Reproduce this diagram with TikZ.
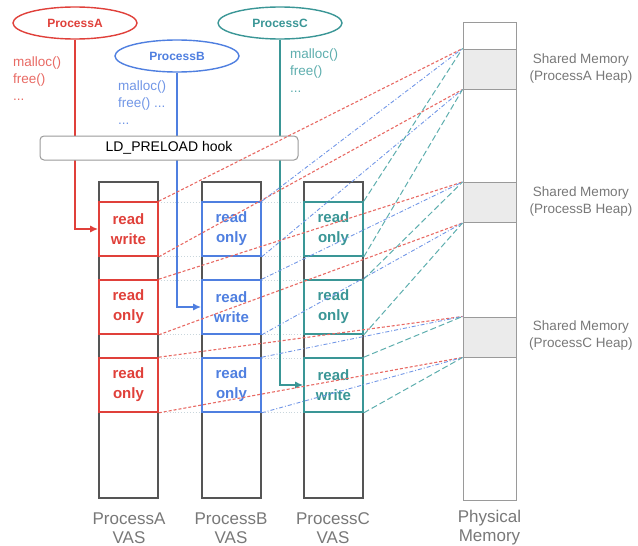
\documentclass[tikz,border=0pt]{standalone}
\usepackage{fontspec}
\setmainfont{Liberation Sans}
\usetikzlibrary{shapes.geometric,arrows.meta}

\definecolor{cA}{HTML}{E0403A}
\definecolor{cB}{HTML}{4F7FE0}
\definecolor{cC}{HTML}{3A9696}
\definecolor{cAl}{HTML}{E86A64}
\definecolor{cBl}{HTML}{7196E6}
\definecolor{cCl}{HTML}{5EAEAE}
\definecolor{colline}{HTML}{555555}
\definecolor{memline}{HTML}{9A9A9A}
\definecolor{memfill}{HTML}{EBEBEB}
\definecolor{labgray}{HTML}{787878}
\definecolor{gridline}{HTML}{C9D6DC}

\tikzset{
  proc/.style={ellipse, draw=#1, line width=1.4pt, fill=white,
    minimum width=124pt, minimum height=32pt, inner sep=0pt,
    text=#1, font=\fontsize{12}{14}\selectfont\bfseries},
  codetxt/.style={anchor=north west, inner sep=0pt, align=left, text=#1,
    font=\fontsize{13.5}{17}\selectfont},
  vascol/.style={rectangle, draw=colline, line width=1.3pt,
    minimum width=59pt, minimum height=316pt, inner sep=0pt},
  seg/.style={rectangle, draw=#1, line width=1.6pt, fill=white,
    minimum width=59pt, minimum height=54pt, inner sep=0pt, align=center,
    text=#1, font=\fontsize{15}{20}\selectfont\bfseries},
  hookbox/.style={rectangle, rounded corners=4pt, draw=memline, line width=1pt,
    fill=white, minimum width=258pt, minimum height=24pt, inner sep=0pt,
    font=\fontsize{14}{16}\selectfont},
  memcol/.style={rectangle, draw=memline, line width=1pt,
    minimum width=53pt, minimum height=478pt, inner sep=0pt},
  shared/.style={rectangle, draw=memline, line width=1pt, fill=memfill,
    minimum width=53pt, minimum height=40pt, inner sep=0pt},
  sharedtxt/.style={align=center, text=labgray, inner sep=0pt,
    font=\fontsize{13.5}{17}\selectfont},
  collabel/.style={align=center, text=labgray, inner sep=0pt,
    font=\fontsize{17}{19}\selectfont},
  callarrow/.style={draw=#1, line width=1.5pt,
    -{Latex[length=8pt,width=7pt]}},
  grid/.style={draw=gridline, line width=0.9pt, dotted},
  mapA/.style={draw=cAl, line width=1.1pt, dash pattern=on 3pt off 2pt},
  mapB/.style={draw=cBl, line width=0.9pt, dash pattern=on 4pt off 2pt on 1pt off 2pt},
  mapC/.style={draw=cCl, line width=1pt, dash pattern=on 6pt off 3pt},
}

\begin{document}
\begin{tikzpicture}[x=1pt, y=-1pt]
\useasboundingbox (0,0) rectangle (638,546);

% processes and their allocator calls
\node[proc=cA] (pA) at (75,23) {ProcessA};
\node[proc=cB] (pB) at (177,56) {ProcessB};
\node[proc=cC] (pC) at (280,23) {ProcessC};

\node[codetxt=cAl] (tA) at (13,57) {malloc()\\free()\\...};
\node[codetxt=cBl] (tB) at (118,81) {malloc()\\free() ...\\...};
\node[codetxt=cCl] (tC) at (290,49) {malloc()\\free()\\...};

% virtual address spaces
\node[vascol] (colA) at (128.5,340) {};
\node[vascol] (colB) at (231.5,340) {};
\node[vascol] (colC) at (333.5,340) {};

% faint guides across the segment boundaries
\foreach \yy in {202,256,280,334,358,412}
  \draw[grid] (158,\yy) -- (304,\yy);

\node[seg=cA] (aS1) at (128.5,229) {read\\write};
\node[seg=cA] (aS2) at (128.5,307) {read\\only};
\node[seg=cA] (aS3) at (128.5,385) {read\\only};

\node[seg=cB] (bS1) at (231.5,229) {read\\only};
\node[seg=cB] (bS2) at (231.5,307) {read\\write};
\node[seg=cB] (bS3) at (231.5,385) {read\\only};

\node[seg=cC] (cS1) at (333.5,229) {read\\only};
\node[seg=cC] (cS2) at (333.5,307) {read\\only};
\node[seg=cC] (cS3) at (333.5,385) {read\\write};

\node[collabel] (lA) at (129,528) {ProcessA\\VAS};
\node[collabel] (lB) at (231,528) {ProcessB\\VAS};
\node[collabel] (lC) at (333,528) {ProcessC\\VAS};

% physical memory
\node[memcol] (phys) at (489.5,261) {};
\node[shared] (shA) at (489.5,69) {};
\node[shared] (shB) at (489.5,202.5) {};
\node[shared] (shC) at (489.5,337) {};
\node[collabel] (lP) at (489.5,528) {Physical\\Memory};

\node[sharedtxt] (tShA) at (581,69) {Shared Memory\\(ProcessA Heap)};
\node[sharedtxt] (tShB) at (581,202) {Shared Memory\\(ProcessB Heap)};
\node[sharedtxt] (tShC) at (581,336) {Shared Memory\\(ProcessC Heap)};

% calls going through the hook into the writable heap
\draw[callarrow=cA] (pA.south) |- (aS1.west);
\draw[callarrow=cB] (pB.south) |- (bS2.west);
\draw[callarrow=cC] (pC.south) |- (cS3.west);

\node[hookbox] (hook) at (169,148) {LD\_PRELOAD hook};

% mappings of every segment onto the shared heaps
\foreach \s/\m in {1/shA,2/shB,3/shC}{
  \draw[mapA] (aS\s.north east) -- (\m.north west);
  \draw[mapA] (aS\s.south east) -- (\m.south west);
  \draw[mapB] (bS\s.north east) -- (\m.north west);
  \draw[mapB] (bS\s.south east) -- (\m.south west);
  \draw[mapC] (cS\s.north east) -- (\m.north west);
  \draw[mapC] (cS\s.south east) -- (\m.south west);
}
\end{tikzpicture}
\end{document}
